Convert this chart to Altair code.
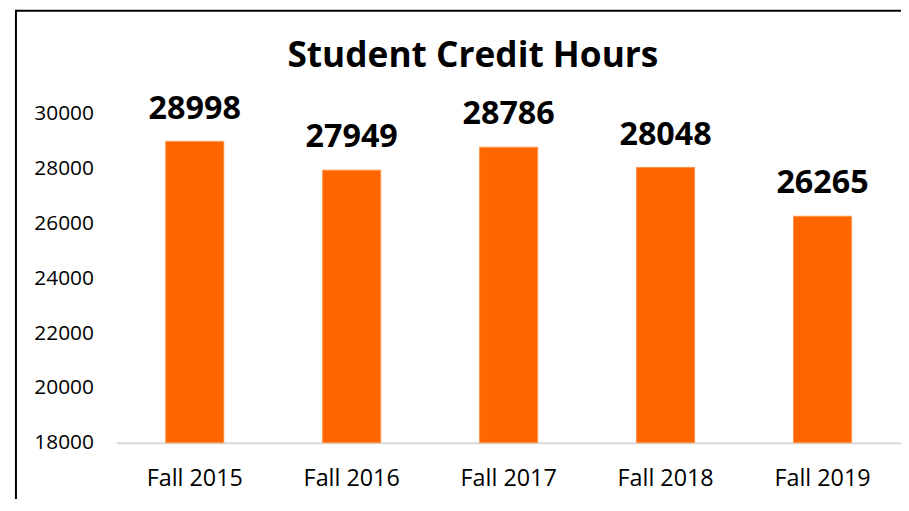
import altair as alt
import pandas as pd

terms = ["Fall 2015", "Fall 2016", "Fall 2017", "Fall 2018", "Fall 2019"]
hours = [28998, 27949, 28786, 28048, 26265]
y_ticks = [18000, 20000, 22000, 24000, 26000, 28000, 30000]
y_min, y_max = 18000, 30000

df = pd.DataFrame({"term": terms, "hours": hours})

FONT = "Open Sans"
ORANGE = "#FF6600"

base = alt.Chart(df)

x_enc = alt.X(
    "term:N",
    sort=terms,
    title=None,
    scale=alt.Scale(paddingInner=0.63, paddingOuter=0.315),
    axis=alt.Axis(
        labelAngle=0,
        labelFont=FONT,
        labelFontSize=23.5,
        labelColor="#000000",
        labelPadding=24,
        ticks=False,
        domainColor="#d9d9d9",
        domainWidth=2,
        grid=False,
    ),
)
y_enc = alt.Y(
    "hours:Q",
    title=None,
    scale=alt.Scale(domain=[y_min, y_max], nice=False, zero=False),
    axis=alt.Axis(
        values=y_ticks,
        labelFont=FONT,
        labelFontSize=21,
        labelColor="#000000",
        labelPadding=23,
        ticks=False,
        domain=False,
        grid=False,
        format="d",
    ),
)

bars = base.mark_bar(color=ORANGE, stroke="#ff9447", strokeWidth=1).encode(
    x=x_enc, y=y_enc, y2=alt.datum(y_min)
)

labels = base.mark_text(
    font=FONT,
    fontSize=32.5,
    fontWeight="bold",
    color="#000000",
    baseline="alphabetic",
    dy=-23,
).encode(x=alt.X("term:N", sort=terms), y="hours:Q", text="hours:Q")

frame_data = alt.Data(values=[{"k": 1}])
left_line = alt.Chart(frame_data).mark_rule(color="#000000", strokeWidth=2).encode(
    x=alt.value(-101), y=alt.value(-104), y2=alt.value(420)
)
top_line = alt.Chart(frame_data).mark_rule(color="#000000", strokeWidth=2).encode(
    x=alt.value(-102), x2=alt.value(800), y=alt.value(-104)
)

chart = (
    alt.layer(bars, labels, left_line, top_line)
    .properties(
        width=790,
        height=331,
        padding={"left": 109, "top": 105, "right": 0, "bottom": 55},
        autosize=alt.AutoSizeParams(type="none"),
        title=alt.TitleParams(
            text="Student Credit Hours",
            font=FONT,
            fontSize=35.5,
            fontWeight="bold",
            color="#000000",
            anchor="middle",
            dx=-36,
            baseline="alphabetic",
            offset=-93,
        ),
    )
    .configure(background="#ffffff")
    .configure_view(strokeWidth=0, stroke="transparent")
)

chart.save("out.html", embed_options={"renderer": "svg", "actions": False})
